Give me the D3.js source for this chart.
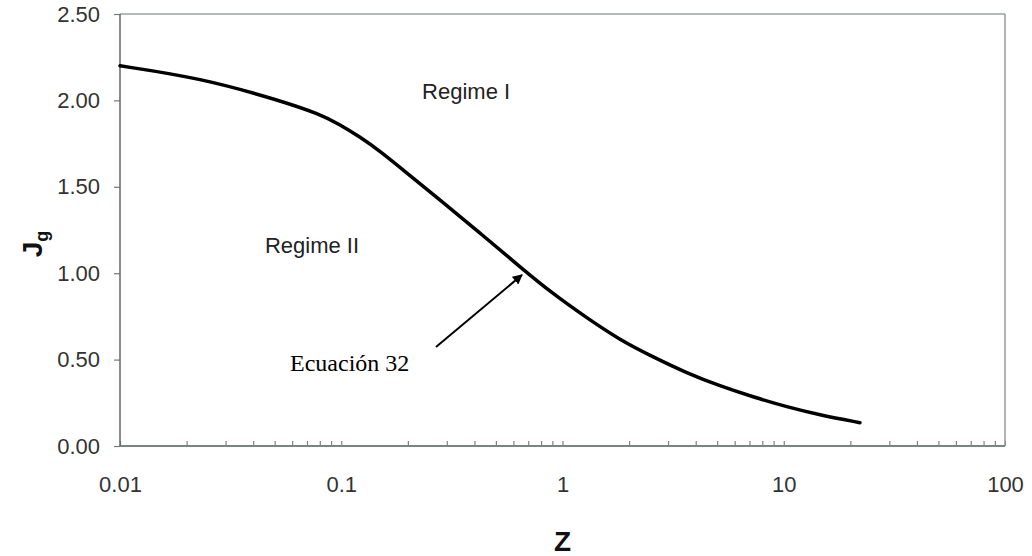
<!DOCTYPE html>
<html>
<head>
<meta charset="utf-8">
<script src="https://cdn.jsdelivr.net/npm/d3@7"></script>
<style>
  body { margin: 0; background: #fff; }
  svg { display: block; font-family: "Liberation Sans", Arial, sans-serif; }
  .axis text { fill: #333; font-size: 22px; }
  .axis .domain { display: none; }
</style>
</head>
<body>
<div id="graph"></div>
<script>
// values
var zValues = [0.01, 0.023, 0.0528, 0.0802, 0.0987, 0.1217, 0.1496, 0.198, 0.279, 0.424, 0.643, 0.906, 1.29, 1.82, 2.57, 3.65, 5.15, 7.26, 10.35, 14.6, 22.1];
var jgValues = [2.20, 2.13, 2.00, 1.92, 1.86, 1.788, 1.707, 1.58, 1.424, 1.233, 1.036, 0.88, 0.741, 0.613, 0.515, 0.422, 0.347, 0.284, 0.226, 0.179, 0.135];
var yTicks = [0, 0.5, 1, 1.5, 2, 2.5];
var xTicks = [0.01, 0.1, 1, 10, 100];
var xTickLabels = ['0.01', '0.1', '1', '10', '100'];
var regions = [
  {label: 'Regime I', z: 0.232, jg: 2.008},
  {label: 'Regime II', z: 0.0452, jg: 1.117}
];
var arrow = {label: 'Ecuación 32', from: [0.268, 0.573], to: [0.656, 0.99], textAt: [0.0587, 0.434]};

// set graph dimensions and margins
var margin = {top: 14, right: 27, bottom: 110, left: 120};
var width = 1032 - margin.left - margin.right;
var height = 556 - margin.top - margin.bottom;

var x = d3.scaleLog().domain([0.01, 100]).range([0, width]);
var y = d3.scaleLinear().domain([0, 2.5]).range([height, 0]);

var svg = d3.select('#graph')
  .append('svg')
  .attr('width', 1032)
  .attr('height', 556)
.append('g')
  .attr('transform', 'translate(' + margin.left + ',' + margin.top + ')');

// minor ticks, pointing up into the plot
var minor = [];
[0.01, 0.1, 1, 10].forEach(function(d) {
  for (var i = 1; i <= 9; i++) minor.push(d * i);
});
minor.push(100);

svg.append('g')
  .attr('class', 'axis')
  .attr('transform', 'translate(0,' + height + ')')
  .call(d3.axisBottom(x).tickValues(minor).tickSize(-5).tickFormat(''))
  .selectAll('line').attr('stroke', '#7a8583').attr('stroke-width', 1.2);

// x labels
svg.append('g')
  .attr('class', 'axis')
  .attr('transform', 'translate(0,' + height + ')')
  .call(d3.axisBottom(x).tickValues(xTicks).tickSize(0).tickPadding(30)
    .tickFormat(function(d, i) { return xTickLabels[i]; }));

// y axis
svg.append('g')
  .attr('class', 'axis')
  .call(d3.axisLeft(y).tickValues(yTicks).tickSize(6).tickPadding(14).tickFormat(d3.format('.2f')))
  .selectAll('line').attr('stroke', '#777').attr('stroke-width', 1.2);

// frame
svg.append('line').attr('x1', 0).attr('x2', width).attr('y1', 0).attr('y2', 0)
  .attr('stroke', '#9aa5a3').attr('stroke-width', 1.5);
svg.append('line').attr('x1', width).attr('x2', width).attr('y1', 0).attr('y2', height)
  .attr('stroke', '#999').attr('stroke-width', 1.5);
svg.append('line').attr('x1', 0).attr('x2', width).attr('y1', height).attr('y2', height)
  .attr('stroke', '#7a8583').attr('stroke-width', 2);
svg.append('line').attr('x1', 0).attr('x2', 0).attr('y1', 0).attr('y2', height)
  .attr('stroke', '#666').attr('stroke-width', 1.5);

// curve
var data = zValues.map(function(z, i) { return {z: z, jg: jgValues[i]}; });
var valueline = d3.line()
  .x(function(d) { return x(d.z); })
  .y(function(d) { return y(d.jg); })
  .curve(d3.curveBasis);

svg.append('path')
  .datum(data)
  .attr('fill', 'none')
  .attr('stroke', '#000')
  .attr('stroke-width', 3.5)
  .attr('stroke-linecap', 'round')
  .attr('d', valueline);

// region labels
svg.selectAll('.region')
  .data(regions)
  .enter().append('text')
    .attr('class', 'region')
    .attr('x', function(d) { return x(d.z); })
    .attr('y', function(d) { return y(d.jg); })
    .attr('fill', '#222')
    .style('font-size', '22px')
    .text(function(d) { return d.label; });

// arrow to the curve
svg.append('defs').append('marker')
  .attr('id', 'head')
  .attr('viewBox', '0 0 10 10')
  .attr('refX', 9).attr('refY', 5)
  .attr('markerWidth', 5).attr('markerHeight', 5)
  .attr('orient', 'auto')
.append('path')
  .attr('d', 'M0,0L10,5L0,10z')
  .attr('fill', '#000');

svg.append('line')
  .attr('x1', x(arrow.from[0])).attr('y1', y(arrow.from[1]))
  .attr('x2', x(arrow.to[0])).attr('y2', y(arrow.to[1]))
  .attr('stroke', '#000')
  .attr('stroke-width', 2)
  .attr('marker-end', 'url(#head)');

svg.append('text')
  .attr('x', x(arrow.textAt[0]))
  .attr('y', y(arrow.textAt[1]))
  .style('font-family', '"Liberation Serif", "Times New Roman", serif')
  .style('font-size', '24px')
  .attr('fill', '#000')
  .text(arrow.label);

// axis titles
svg.append('text')
  .attr('x', width / 2)
  .attr('y', height + 105)
  .attr('text-anchor', 'middle')
  .style('font-size', '28px')
  .style('font-weight', 'bold')
  .attr('fill', '#111')
  .text('Z');

var yTitle = svg.append('text')
  .attr('transform', 'translate(' + (-78) + ',' + (height / 2 + 14) + ') rotate(-90)')
  .attr('text-anchor', 'middle')
  .style('font-weight', 'bold')
  .attr('fill', '#111');
yTitle.append('tspan').style('font-size', '28px').text('J');
yTitle.append('tspan').style('font-size', '18px').attr('dy', 6).text('g');
</script>
</body>
</html>
